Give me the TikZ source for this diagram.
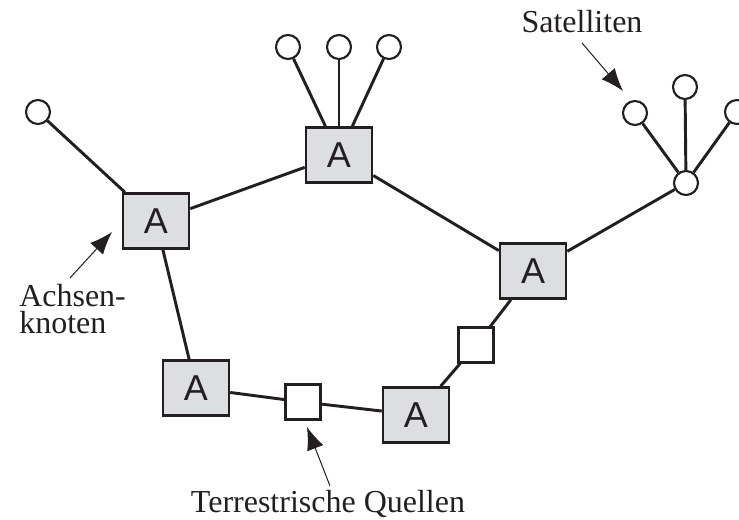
\documentclass[tikz,border=0pt]{standalone}
\usepackage{fontspec}
\setmainfont{Liberation Serif}
\newfontfamily\boxfont{Liberation Sans}
\usepackage{tikz}
\usetikzlibrary{arrows.meta,positioning}
\definecolor{boxgray}{RGB}{221,222,225}
\definecolor{ink}{RGB}{35,31,32}
\tikzstyle{achse} = [rectangle, draw=ink, fill=boxgray, line width=1.9pt,
    minimum width=49.5pt, minimum height=41.25pt, inner sep=0pt,
    font=\boxfont\fontsize{27}{27}\selectfont, text=ink]
\tikzstyle{quelle} = [rectangle, draw=ink, fill=white, line width=1.6pt,
    minimum size=26.25pt, inner sep=0pt]
\tikzstyle{sat} = [circle, draw=ink, fill=white, line width=1.6pt,
    minimum size=18pt, inner sep=0pt]
\tikzstyle{label} = [font=\fontsize{24}{20}\selectfont, text=ink, inner sep=0pt]
\tikzstyle{link} = [draw=ink, line width=2.2pt]
\tikzstyle{pointer} = [draw=ink, line width=0.75pt, -{Latex[length=17pt,width=13pt]}]

\begin{document}
\begin{tikzpicture}[x=0.75pt, y=-0.75pt]
    \useasboundingbox (0,0) rectangle (739,520);
    % Place nodes
    \node [achse] (achse1) at (156,221) {A};
    \node [achse] (achse2) at (339,155) {A};
    \node [achse] (achse3) at (533,271) {A};
    \node [achse] (achse4) at (196,388) {A};
    \node [achse] (achse5) at (416,415) {A};
    \node [quelle] (quelle1) at (303,402) {};
    \node [quelle] (quelle2) at (476,345) {};
    \node [sat] (links) at (38,112) {};
    \node [sat] (oben1) at (288,47) {};
    \node [sat] (oben2) at (339,47) {};
    \node [sat] (oben3) at (389,47) {};
    \node [sat] (hub) at (686,183) {};
    \node [sat] (satL) at (635,113) {};
    \node [sat] (satM) at (685,87) {};
    \node [sat] (satR) at (737,112) {};
    % Labels
    \node [label, anchor=base] (satText) at (582,33) {Satelliten};
    \node [label, anchor=south west, align=left] (achsText) at (19,334)
    {Achsen-\\knoten};
    \node [label, anchor=base] (quelleText) at (328,512) {Terrestrische Quellen};
    \coordinate (satTail) at (582,43);
    \coordinate (satTip) at (623,91);
    \coordinate (achsTail) at (70,278);
    \coordinate (achsTip) at (112,232);
    \coordinate (quelleTail) at (330,486);
    \coordinate (quelleTip) at (307,427);
    % Draw edges
    \draw [link] (links) -- (achse1);
    \draw [link] (achse1) -- (achse2);
    \draw [link] (oben1) -- (achse2);
    \draw [link] (oben2) -- (achse2);
    \draw [link] (oben3) -- (achse2);
    \draw [link] (achse2) -- (achse3);
    \draw [link] (achse3) -- (hub);
    \draw [link] (hub) -- (satL);
    \draw [link] (hub) -- (satM);
    \draw [link] (hub) -- (satR);
    \draw [link] (achse1) -- (achse4);
    \draw [link] (achse4) -- (quelle1);
    \draw [link] (quelle1) -- (achse5);
    \draw [link] (achse5) -- (quelle2);
    \draw [link] (quelle2) -- (achse3);
    \draw [pointer] (satTail) -- (satTip);
    \draw [pointer] (achsTail) -- (achsTip);
    \draw [pointer] (quelleTail) -- (quelleTip);
\end{tikzpicture}
\end{document}
